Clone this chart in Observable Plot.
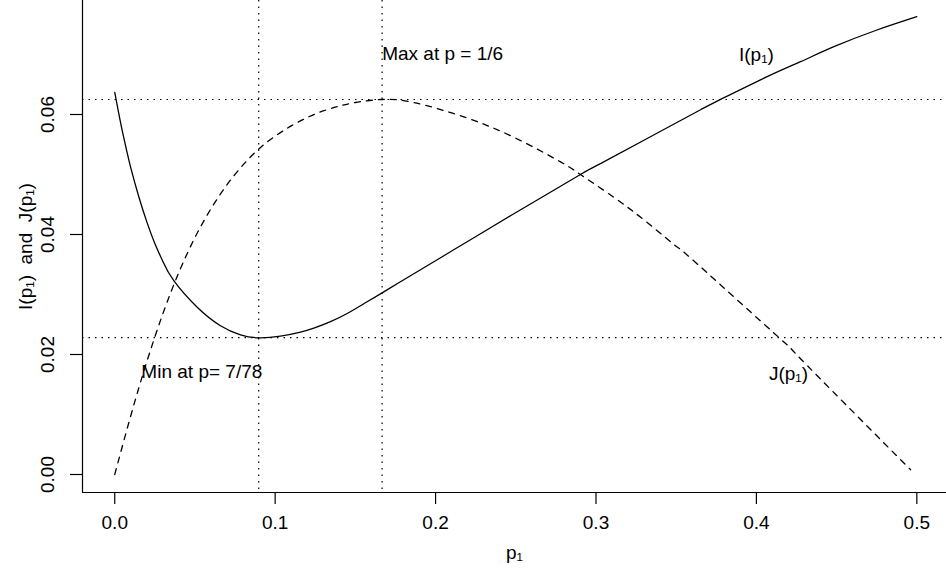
<!DOCTYPE html>
<html><head><meta charset="utf-8">
<script src="https://cdn.jsdelivr.net/npm/d3@7"></script>
<script src="https://cdn.jsdelivr.net/npm/@observablehq/plot@0.6"></script>
<style>html,body{margin:0;padding:0;background:#fff}svg{display:block}</style>
</head><body><div id="chart"></div>
<script>
// I(p1): solid curve
const pI = [0, 0.0025, 0.005, 0.0075, 0.01, 0.015, 0.02, 0.025, 0.03, 0.0368, 0.0514, 0.0659, 0.0784, 0.0897, 0.1033, 0.1158, 0.1241, 0.1345, 0.1449, 0.1563, 0.1667, 0.1781, 0.2113, 0.2488, 0.2903, 0.3028, 0.3319, 0.3652, 0.3775, 0.4067, 0.4275, 0.4483, 0.4743, 0.5];
const vI = [0.0637, 0.0602, 0.0569, 0.0539, 0.0511, 0.0463, 0.0421, 0.0385, 0.0355, 0.0323, 0.02788, 0.0248, 0.02328, 0.02278, 0.02305, 0.02372, 0.02438, 0.02547, 0.02683, 0.02862, 0.03028, 0.03212, 0.03745, 0.04345, 0.0500, 0.0518, 0.0560, 0.0608, 0.0625, 0.0663, 0.0688, 0.0713, 0.0740, 0.0763];
// J(p1): dashed curve
const pJ = [0, 0.01, 0.02, 0.03, 0.04, 0.05, 0.06, 0.07, 0.08, 0.09, 0.10, 0.11, 0.12, 0.13, 0.14, 0.15, 0.1667, 0.1864, 0.2176, 0.2488, 0.2779, 0.2903, 0.3111, 0.3319, 0.3506, 0.3631, 0.4150, 0.4275, 0.4961];
const vJ = [0, 0.0098, 0.0188, 0.0268, 0.0337, 0.0395, 0.0443, 0.0483, 0.0516, 0.0543, 0.0564, 0.0581, 0.0595, 0.0606, 0.0614, 0.0620, 0.0625, 0.0620, 0.0596, 0.0562, 0.0521, 0.0500, 0.0462, 0.0420, 0.0379, 0.0351, 0.0226, 0.0193, 0.0008];
// dotted reference lines
const refX = [7 / 78, 1 / 6];
const refY = [0.0625, 0.0228];
// axes
const xTicks = [0, 0.1, 0.2, 0.3, 0.4, 0.5];
const yTicks = [0, 0.02, 0.04, 0.06];
const xDomain = [-0.0201, 0.5185];
const yDomain = [-0.003, 0.079];
const xTitle = "p₁";
const yTitle = "I(p₁)\u00a0 and\u00a0 J(p₁)";
// annotations
const startLabels = ["Max at p = 1/6", "Min at p= 7/78"];
const startX = [0.1667, 0.0166];
const startY = [0.0701, 0.0171];
const midLabels = ["I(p₁)", "J(p₁)"];
const midX = [0.400, 0.420];
const midY = [0.0700, 0.0168];

const I = pI.map((p, i) => ({p, v: vI[i]}));
const J = pJ.map((p, i) => ({p, v: vJ[i]}));
const sL = startLabels.map((t, i) => ({t, x: startX[i], y: startY[i]}));
const mL = midLabels.map((t, i) => ({t, x: midX[i], y: midY[i]}));

const font = "'Liberation Sans', Arial, Helvetica, sans-serif";
const lw = 1.2;
const chart = Plot.plot({
  width: 946, height: 575,
  marginLeft: 82, marginRight: 0, marginTop: 0, marginBottom: 83,
  style: {fontFamily: font, fontSize: "19px", background: "#fff", color: "#000", overflow: "visible"},
  x: {domain: xDomain},
  y: {domain: yDomain},
  marks: [
    Plot.ruleX(refX, {stroke: "#000", strokeWidth: lw, strokeDasharray: "1.5,5"}),
    Plot.ruleY(refY, {stroke: "#000", strokeWidth: lw, strokeDasharray: "1.5,5"}),
    Plot.line(I, {x: "p", y: "v", curve: "natural", stroke: "#000", strokeWidth: 1.3}),
    Plot.line(J, {x: "p", y: "v", curve: "natural", stroke: "#000", strokeWidth: 1.3, strokeDasharray: "6,6"}),
    Plot.text(sL, {x: "x", y: "y", text: "t", textAnchor: "start", fill: "#000"}),
    Plot.text(mL, {x: "x", y: "y", text: "t", textAnchor: "middle", fill: "#000"}),
    Plot.ruleX([xDomain[0]], {stroke: "#000", strokeWidth: lw}),
    Plot.ruleY([yDomain[0]], {stroke: "#000", strokeWidth: lw}),
    Plot.axisX({ticks: xTicks, tickFormat: d3.format(".1f"), tickSize: 12, tickPadding: 11, label: null, strokeWidth: lw}),
    Plot.axisY({ticks: yTicks, tickFormat: d3.format(".2f"), tickSize: 12, tickPadding: 17, tickRotate: -90, label: null, strokeWidth: lw}),
    Plot.text([xTitle], {text: d => d, frameAnchor: "bottom", lineAnchor: "middle", textAnchor: "middle", dy: 60, fill: "#000"}),
    Plot.text([yTitle], {text: d => d, frameAnchor: "left", lineAnchor: "middle", textAnchor: "middle", dx: -57, rotate: -90, fill: "#000"})
  ]
});
document.getElementById("chart").appendChild(chart);
</script>
</body></html>
